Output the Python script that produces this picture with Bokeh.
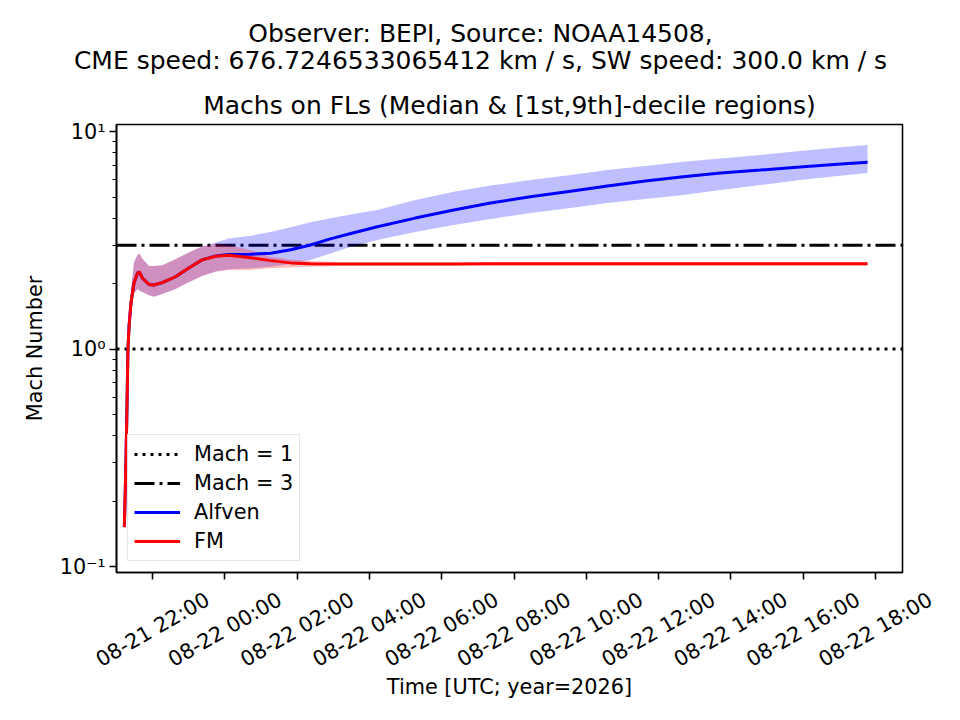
import math
import pandas as pd
from bokeh.plotting import figure
from bokeh.core.properties import value
from bokeh.models import (Range1d, Legend, LegendItem, FixedTicker,
                          CustomJSTickFormatter, ColumnDataSource)
from bokeh.embed import file_html
from bokeh.resources import INLINE

# data
times = [
    "2026-08-21 21:13", "2026-08-21 21:15", "2026-08-21 21:17", "2026-08-21 21:19",
    "2026-08-21 21:21", "2026-08-21 21:24", "2026-08-21 21:29", "2026-08-21 21:35",
    "2026-08-21 21:38", "2026-08-21 21:43", "2026-08-21 21:54", "2026-08-21 22:02",
    "2026-08-21 22:16", "2026-08-21 22:38", "2026-08-21 23:00", "2026-08-21 23:22",
    "2026-08-21 23:45", "2026-08-22 00:06", "2026-08-22 00:43", "2026-08-22 01:16",
    "2026-08-22 01:49", "2026-08-22 02:22", "2026-08-22 02:55", "2026-08-22 03:29",
    "2026-08-22 04:13", "2026-08-22 05:16", "2026-08-22 06:20", "2026-08-22 07:21",
    "2026-08-22 08:27", "2026-08-22 09:34", "2026-08-22 10:35", "2026-08-22 11:38",
    "2026-08-22 12:41", "2026-08-22 13:43", "2026-08-22 14:49", "2026-08-22 15:55",
    "2026-08-22 16:57", "2026-08-22 17:47",
]

alfven_med = [0.152, 0.25, 0.47, 1.00, 1.29, 1.63, 2.01, 2.24, 2.26, 2.12, 1.98, 1.97,
              2.02, 2.15, 2.36, 2.57, 2.68, 2.72, 2.73, 2.76, 2.86, 3.01, 3.21, 3.40,
              3.65, 4.00, 4.36, 4.69, 5.01, 5.32, 5.62, 5.92, 6.20, 6.45, 6.65, 6.87,
              7.07, 7.22]
alfven_lo = [0.149, 0.24, 0.44, 0.94, 1.18, 1.45, 1.80, 1.89, 1.86, 1.83, 1.77, 1.74,
             1.79, 1.89, 2.03, 2.17, 2.27, 2.33, 2.35, 2.39, 2.46, 2.57, 2.75, 2.95,
             3.17, 3.45, 3.72, 3.96, 4.22, 4.45, 4.69, 4.89, 5.11, 5.38, 5.67, 5.98,
             6.24, 6.44]
alfven_hi = [0.155, 0.26, 0.50, 1.06, 1.40, 1.85, 2.50, 2.71, 2.75, 2.60, 2.41, 2.41,
             2.43, 2.59, 2.78, 2.96, 3.09, 3.22, 3.32, 3.45, 3.63, 3.83, 3.99, 4.16,
             4.36, 4.84, 5.29, 5.64, 5.98, 6.31, 6.65, 6.94, 7.26, 7.51, 7.80, 8.13,
             8.44, 8.67]

fm_med = [0.152, 0.25, 0.47, 1.00, 1.29, 1.63, 2.01, 2.24, 2.26, 2.12, 1.98, 1.97,
          2.02, 2.15, 2.36, 2.57, 2.67, 2.70, 2.63, 2.55, 2.49, 2.47, 2.46, 2.46,
          2.46, 2.46, 2.46, 2.47, 2.47, 2.47, 2.47, 2.47, 2.47, 2.47, 2.47, 2.47,
          2.47, 2.47]
fm_lo = [0.149, 0.24, 0.44, 0.94, 1.18, 1.45, 1.80, 1.89, 1.86, 1.83, 1.77, 1.74,
         1.79, 1.89, 2.03, 2.17, 2.27, 2.31, 2.31, 2.35, 2.37, 2.39, 2.41, 2.42,
         2.42, 2.42, 2.42, 2.42, 2.42, 2.42, 2.42, 2.42, 2.42, 2.42, 2.42, 2.42,
         2.42, 2.42]
fm_hi = [0.155, 0.26, 0.50, 1.06, 1.40, 1.85, 2.50, 2.71, 2.75, 2.60, 2.41, 2.41,
         2.43, 2.59, 2.78, 2.96, 3.05, 3.00, 2.85, 2.66, 2.58, 2.54, 2.51, 2.50,
         2.50, 2.50, 2.50, 2.50, 2.50, 2.50, 2.50, 2.50, 2.50, 2.50, 2.50, 2.50,
         2.50, 2.50]

mach_levels = [1, 3]
mach_labels = ["Mach = 1", "Mach = 3"]

tick_times = ["2026-08-21 22:00", "2026-08-22 00:00", "2026-08-22 02:00",
              "2026-08-22 04:00", "2026-08-22 06:00", "2026-08-22 08:00",
              "2026-08-22 10:00", "2026-08-22 12:00", "2026-08-22 14:00",
              "2026-08-22 16:00", "2026-08-22 18:00"]

suptitle = ["Observer: BEPI, Source: NOAA14508,",
            "CME speed: 676.7246533065412 km / s, SW speed: 300.0 km / s"]
title = "Machs on FLs (Median & [1st,9th]-decile regions)"
xlabel = "Time [UTC; year=2026]"
ylabel = "Mach Number"

FONT = "DejaVu Sans"
FS = "20.8px"

t = pd.to_datetime(times)
x_start = pd.Timestamp("2026-08-21 21:00")
x_end = pd.Timestamp("2026-08-22 18:45")

# page layout (px): suptitle strip, main plot, tick-label strip
W = 960
top_h, main_h, bot_h = 80, 508, 132
left, right = 116, 58
frame_w = W - left - right


def strip(height, x_range, y_range):
    f = figure(width=W, height=height, x_range=x_range, y_range=y_range,
               output_backend="svg", toolbar_location=None,
               x_axis_location=None, y_axis_location=None,
               min_border=0)
    f.grid.visible = False
    f.outline_line_color = None
    return f


# --- suptitle strip
top = strip(top_h, Range1d(0, 1), Range1d(top_h, 0))
top.text(x=[0.5, 0.5], y=[33, 60], text=suptitle, text_align="center",
         text_baseline="alphabetic", text_font=value(FONT),
         text_font_size=value("25px"), text_color="black")

# --- main plot
p = figure(width=W, height=main_h, x_axis_type="datetime", y_axis_type="log",
           x_range=Range1d(x_start, x_end), y_range=Range1d(0.094, 10.77),
           output_backend="svg", toolbar_location=None,
           min_border_left=left, min_border_right=right,
           min_border_top=44, min_border_bottom=16)
p.grid.visible = False
p.outline_line_color = "black"
p.outline_line_width = 1.6

p.title.text = title
p.title.align = "center"
p.title.text_font = FONT
p.title.text_font_size = "25px"
p.title.text_font_style = "normal"
p.title.text_color = "black"
p.title.standoff = 10

# horizontal reference lines across the whole axis
r_m1 = p.line([x_start, x_end], [mach_levels[0]] * 2, line_color="black",
              line_width=3, line_dash="3 5")
r_m3 = p.line([x_start, x_end], [mach_levels[1]] * 2, line_color="black",
              line_width=3, line_dash="20 5 3 5")

# decile bands and medians
p.varea(x=t, y1=alfven_lo, y2=alfven_hi, fill_color="blue", fill_alpha=0.25)
p.varea(x=t, y1=fm_lo, y2=fm_hi, fill_color="red", fill_alpha=0.25)
r_alf = p.line(t, alfven_med, line_color="blue", line_width=3)
r_fm = p.line(t, fm_med, line_color="red", line_width=3)

legend = Legend(items=[
    LegendItem(label=mach_labels[0], renderers=[r_m1]),
    LegendItem(label=mach_labels[1], renderers=[r_m3]),
    LegendItem(label="Alfven", renderers=[r_alf]),
    LegendItem(label="FM", renderers=[r_fm]),
], location="bottom_left")
legend.margin = 11
legend.padding = 6
legend.spacing = 3
legend.glyph_width = 46
legend.glyph_height = 26
legend.label_standoff = 14
legend.label_text_font = FONT
legend.label_text_font_size = FS
legend.label_text_color = "black"
legend.border_line_color = "#cccccc"
legend.border_line_width = 1
legend.background_fill_alpha = 0.8
p.add_layout(legend)

# y axis
p.yaxis.ticker = FixedTicker(
    ticks=[0.1, 1, 10],
    minor_ticks=[0.2, 0.3, 0.4, 0.5, 0.6, 0.7, 0.8, 0.9,
                 2, 3, 4, 5, 6, 7, 8, 9])
p.yaxis.formatter = CustomJSTickFormatter(code="""
    const sup = {"-1": "\u207b\u00b9", "0": "\u2070", "1": "\u00b9"};
    return "10" + sup[String(Math.round(Math.log10(tick)))];
""")
p.yaxis.axis_label = ylabel
p.yaxis.axis_label_text_font = FONT
p.yaxis.axis_label_text_font_size = FS
p.yaxis.axis_label_text_font_style = "normal"
p.yaxis.axis_label_text_color = "black"
p.yaxis.axis_label_standoff = 10
p.yaxis.major_label_text_font = FONT
p.yaxis.major_label_text_font_size = FS
p.yaxis.major_label_text_color = "black"
p.yaxis.major_label_standoff = 4

# x axis: ticks only, labels go in the strip below
tick_ts = pd.to_datetime(tick_times)
tick_ms = [ts.timestamp() * 1000 for ts in tick_ts]
p.xaxis.ticker = FixedTicker(ticks=tick_ms)
p.xaxis.formatter = CustomJSTickFormatter(code="return ''")
p.xaxis.minor_tick_line_color = None

for ax in (p.xaxis, p.yaxis):
    ax.axis_line_width = 1.6
    ax.major_tick_line_width = 1.6
    ax.minor_tick_line_width = 1.2
    ax.major_tick_in = 0
    ax.major_tick_out = 7
    ax.minor_tick_in = 0
    ax.minor_tick_out = 4

# --- tick label strip, same time scale as the main frame but full page width
ms_per_px = (x_end - x_start) / pd.Timedelta(milliseconds=1) / frame_w
x0_ms = x_start.timestamp() * 1000
x1_ms = x_end.timestamp() * 1000
bot = strip(bot_h, Range1d(x0_ms - left * ms_per_px, x1_ms + right * ms_per_px),
            Range1d(bot_h, 0))
tick_src = ColumnDataSource(dict(x=tick_ms, y=[41] * len(tick_ms),
                                 text=[ts.strftime("%m-%d %H:%M") for ts in tick_ts]))
bot.text(x="x", y="y", text="text", source=tick_src, angle=math.pi / 6,
         text_align="center", text_baseline="middle", text_font=value(FONT),
         text_font_size=value(FS), text_color="black")
bot.text(x=[(x0_ms + x1_ms) / 2], y=[98], text=[xlabel], text_align="center",
         text_baseline="middle", text_font=value(FONT), text_font_size=value(FS),
         text_color="black")

# three independent roots stacked on the page (no frame alignment between them)
open("out.html", "w").write(file_html([top, p, bot], INLINE))
